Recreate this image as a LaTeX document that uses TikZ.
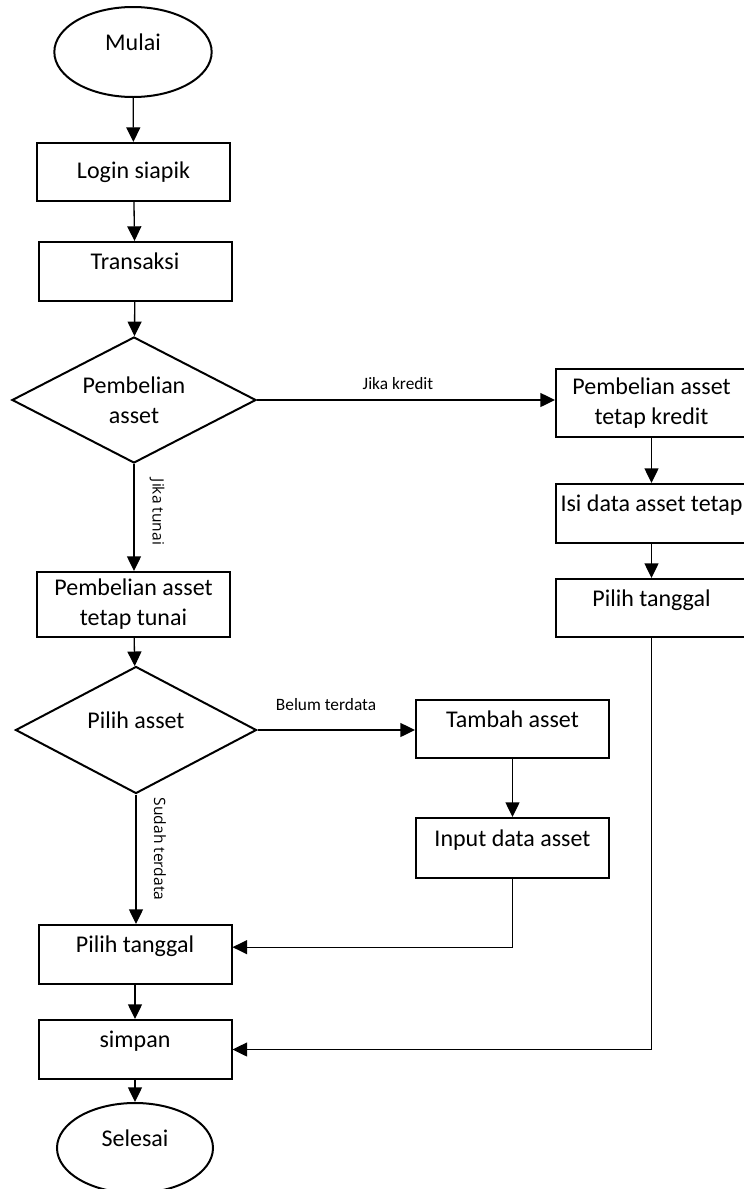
\documentclass[tikz,border=0pt]{standalone}
\usepackage{fontspec}
\setmainfont{Carlito}
\newfontfamily\sidefont{Open Sans}
\usetikzlibrary{shapes.geometric,arrows.meta}

\begin{document}
\begin{tikzpicture}[x=0.75pt,y=-0.75pt,
  every node/.style={font=\fontsize{18}{22.5}\selectfont},
  box/.style={draw,line width=1.5pt,rectangle,inner sep=0pt,
    minimum width=144.75pt,minimum height=44.25pt,align=center},
  topbox/.style={box,text height=12pt,text depth=15pt},
  terminal/.style={draw,line width=1.5pt,ellipse,inner sep=0pt,
    minimum width=118pt,minimum height=67.5pt,text height=12pt,text depth=15pt},
  decision/.style={draw,line width=1.5pt,diamond,inner sep=0pt,aspect=2,align=center},
  flow/.style={line width=1pt,-{Triangle[length=11pt,width=10.5pt]}},
  tag/.style={font=\fontsize{13}{15}\selectfont,inner sep=0pt},
  sidetag/.style={font=\sidefont\fontsize{11.7}{14}\selectfont,inner sep=0pt,rotate=-90}]

\useasboundingbox (0,0) rectangle (743,1189);

% main column
\node[terminal] (mulai) at (133,52) {Mulai};
\node[box,minimum height=43.5pt] (login) at (133.5,172) {Login siapik};
\node[topbox] (trans) at (135,271.5) {Transaksi};
\node[decision,minimum width=183pt,minimum height=94.5pt] (d1) at (134,400) {Pembelian\\asset};
\node[box,minimum height=48.75pt] (tunai) at (133.5,604.5) {Pembelian asset\\tetap tunai};
\node[decision,minimum width=180.75pt,minimum height=95.25pt,text height=12pt,text depth=15pt] (d2) at (136,730) {Pilih asset};
\node[topbox] (pilihL) at (135,954.5) {Pilih tanggal};
\node[topbox] (simpan) at (135,1049.5) {simpan};
\node[terminal,minimum width=117pt] (selesai) at (135,1148) {Selesai};

% credit branch
\node[box,minimum width=143.25pt,minimum height=51pt] (kredit) at (651.5,403) {Pembelian asset\\tetap kredit};
\node[topbox,minimum width=143.25pt] (isi) at (651.5,513.5) {Isi data asset tetap};
\node[topbox,minimum width=143.25pt,minimum height=43.5pt] (pilihR) at (651.5,608) {Pilih tanggal};

% unregistered asset branch
\node[topbox,minimum height=43.5pt] (tambah) at (512.5,729) {Tambah asset};
\node[topbox,minimum height=45pt] (input) at (512.5,848) {Input data asset};

% connectors
\draw[flow] (mulai) -- (login);
\draw[flow] (login) -- (trans);
\draw[flow] (trans) -- (d1);
\draw[flow] (d1.east) -- (d1.east -| kredit.west);
\draw[flow] (d1.south) -- (d1.south |- tunai.north);
\draw[flow] (kredit) -- (isi);
\draw[flow] (isi) -- (pilihR);
\draw[flow] (tunai) -- (d2);
\draw[flow] (d2.east) -- (d2.east -| tambah.west);
\draw[flow] (tambah) -- (input);
\draw[flow] (d2.south) -- (d2.south |- pilihL.north);
\coordinate (inL) at ([yshift=5.5pt]pilihL.east);
\draw[flow] (input.south) |- (inL);
\draw[flow] (pilihL) -- (simpan);
\draw[flow] (pilihR.south) |- (simpan.east);
\draw[flow] (simpan) -- (selesai);

% branch labels
\node[tag] (lkredit) at (398,384) {Jika kredit};
\node[tag] (lbelum) at (326,705) {Belum terdata};
\node[sidetag] (ltunai) at (157,512) {Jika tunai};
\node[sidetag] (lsudah) at (160,849) {Sudah terdata};

\end{tikzpicture}
\end{document}
